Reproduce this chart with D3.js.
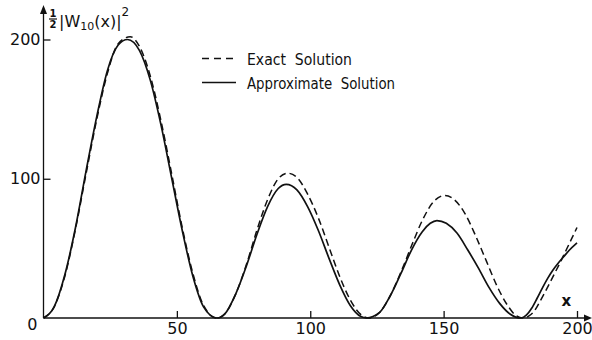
<!DOCTYPE html>
<html>
<head>
<meta charset="utf-8">
<script src="https://cdn.jsdelivr.net/npm/d3@7"></script>
<style>
  body { margin: 0; background: #fff; }
  svg { display: block; }
  text { font-family: "DejaVu Sans", sans-serif; fill: #111; }
</style>
</head>
<body>
<svg id="chart" width="592" height="340"></svg>
<script>
// values
const exactX = [0, 4, 8, 12, 16, 20, 24, 28, 32.5, 36, 40, 44, 48, 52, 56, 60, 65,
  68, 72, 76, 80, 84, 88, 91.5, 95, 99, 103, 107, 111, 115, 119, 122,
  126, 130, 134, 138, 142, 146, 150.5, 154, 158, 162, 166, 170, 174, 177, 180,
  182, 184, 186, 188, 190, 192, 194, 196, 198, 200];
const exactY = [0, 8, 30, 64, 104, 143, 176, 197, 202, 195, 174, 142, 104, 65, 32, 9, 0,
  3, 17, 38, 63, 85, 100, 104, 101, 89, 72, 51, 30, 13, 2.4, 0,
  4, 16, 33, 52, 70, 83, 88, 85, 75, 59, 41, 23, 9, 2, 0,
  1.5, 5, 11.5, 18.5, 26, 33.5, 41, 49, 57, 65];

const approxX = [0, 4, 8, 12, 16, 20, 24, 28, 31.5, 36, 40, 44, 48, 52, 56, 60, 65,
  68, 72, 76, 80, 84, 88, 91, 95, 99, 103, 107, 111, 115, 119, 121,
  126, 130, 134, 138, 142, 145, 147.5, 151, 155, 159, 163, 167, 171, 175, 179,
  181, 183, 185, 187, 189, 191, 193, 195, 197, 200];
const approxY = [0, 8, 31, 65, 106, 145, 178, 196, 200, 192, 171, 139, 101, 63, 30, 8, 0,
  3, 17, 37, 60, 80, 93, 96, 92, 80, 63, 43, 24, 9, 1, 0,
  4, 16, 32, 49, 62, 68, 70, 68, 61, 49, 36, 22, 10.5, 2.7, 0,
  2, 7, 14, 21.5, 28.5, 34.5, 39.5, 44, 48.5, 54];

const xTicks = [50, 100, 150, 200];
const yTicks = [100, 200];
const legendLabels = ["Exact  Solution", "Approximate  Solution"];

const svg = d3.select('#chart');
const ink = '#111';

const x = d3.scaleLinear().domain([0, 200]).range([43.5, 577]);
const y = d3.scaleLinear().domain([0, 200]).range([318, 39.5]);

// axes
const gx = svg.append('g')
  .attr('transform', `translate(0,${y(0)})`)
  .call(d3.axisBottom(x).tickValues(xTicks).tickSize(-7).tickPadding(5));
const gy = svg.append('g')
  .attr('transform', `translate(${x(0)},0)`)
  .call(d3.axisLeft(y).tickValues(yTicks).tickSize(-7).tickPadding(3));

[gx, gy].forEach(g => {
  g.select('.domain').remove();
  g.selectAll('line').attr('stroke', ink).attr('stroke-width', 1.3);
  g.selectAll('text')
    .attr('font-family', '"DejaVu Sans", sans-serif')
    .attr('font-size', 16)
    .attr('fill', ink);
});

// axis lines with arrows
svg.append('line')
  .attr('x1', x(0)).attr('y1', y(0)).attr('x2', 589).attr('y2', y(0))
  .attr('stroke', ink).attr('stroke-width', 1.4);
svg.append('path')
  .attr('d', `M592,${y(0)} L584,${y(0) - 3.5} L584,${y(0) + 3.5} Z`)
  .attr('fill', ink);
svg.append('line')
  .attr('x1', x(0)).attr('y1', y(0)).attr('x2', x(0)).attr('y2', 10)
  .attr('stroke', ink).attr('stroke-width', 1.3);
svg.append('path')
  .attr('d', `M${x(0)},5 L${x(0) - 3.5},14 L${x(0) + 3.5},14 Z`)
  .attr('fill', ink);

svg.append('text')
  .attr('x', x(0) - 6).attr('y', y(0) + 12)
  .attr('text-anchor', 'end')
  .attr('font-size', 16)
  .text('0');

svg.append('text')
  .attr('x', x(196)).attr('y', y(0) - 12)
  .attr('text-anchor', 'middle')
  .attr('font-size', 15)
  .attr('font-weight', 'bold')
  .text('x');

// y label: 1/2 |W10(x)|^2
const yl = svg.append('g');
yl.append('text').attr('x', 53).attr('y', 17).attr('text-anchor', 'middle')
  .attr('font-size', 10).attr('font-weight', 'bold').text('1');
yl.append('line').attr('x1', 49).attr('x2', 57).attr('y1', 19).attr('y2', 19)
  .attr('stroke', ink).attr('stroke-width', 1.2);
yl.append('text').attr('x', 53).attr('y', 28).attr('text-anchor', 'middle')
  .attr('font-size', 10).attr('font-weight', 'bold').text('2');
const lab = yl.append('text').attr('x', 59).attr('y', 27).attr('font-size', 16);
lab.append('tspan').text('|W');
lab.append('tspan').attr('font-size', 11).attr('dy', 3).text('10');
lab.append('tspan').attr('dy', -3).text('(x)|');
lab.append('tspan').attr('font-size', 12).attr('dy', -11).text('2');

// curves
const line = d3.line()
  .x(d => x(d[0]))
  .y(d => y(d[1]))
  .curve(d3.curveMonotoneX);

const exactData = exactX.map((v, i) => [v, exactY[i]]);
const approxData = approxX.map((v, i) => [v, approxY[i]]);

svg.append('path')
  .datum(exactData)
  .attr('d', line)
  .attr('fill', 'none')
  .attr('stroke', ink)
  .attr('stroke-width', 1.5)
  .attr('stroke-dasharray', '7,4');

svg.append('path')
  .datum(approxData)
  .attr('d', line)
  .attr('fill', 'none')
  .attr('stroke', ink)
  .attr('stroke-width', 1.7);

// legend
const legend = svg.append('g');
legend.append('line')
  .attr('x1', 202).attr('x2', 236).attr('y1', 58.5).attr('y2', 58.5)
  .attr('stroke', ink).attr('stroke-width', 1.5).attr('stroke-dasharray', '7,5');
legend.append('line')
  .attr('x1', 202).attr('x2', 236).attr('y1', 82.5).attr('y2', 82.5)
  .attr('stroke', ink).attr('stroke-width', 1.5);
legend.selectAll('text.leg')
  .data(legendLabels)
  .enter().append('text')
  .attr('class', 'leg')
  .attr('x', 247)
  .attr('y', (d, i) => 65 + i * 24)
  .attr('font-size', 16)
  .attr('textLength', (d, i) => i === 0 ? 105 : 148)
  .attr('lengthAdjust', 'spacingAndGlyphs')
  .style('white-space', 'pre')
  .text(d => d);
</script>
</body>
</html>
